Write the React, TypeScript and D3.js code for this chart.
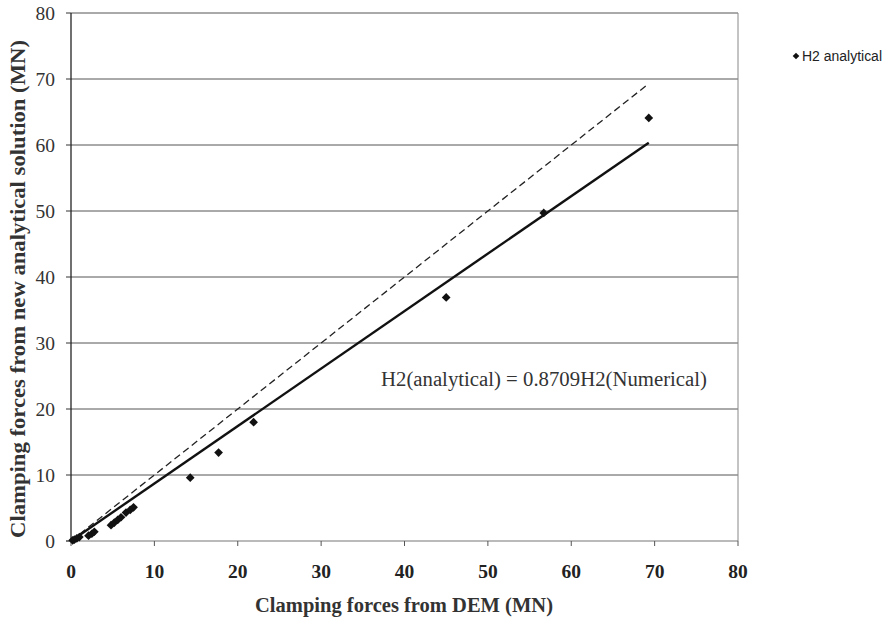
import React from "react";
import * as d3 from "d3";

const demForces = [0.2, 0.4, 0.7, 1.0, 2.1, 2.5, 2.8, 4.8, 5.2, 5.6, 6.0, 6.6, 7.1, 7.5, 14.3, 17.7, 21.9, 45.0, 56.7, 69.3];
const analyticalForces = [0.1, 0.2, 0.4, 0.6, 0.8, 1.1, 1.4, 2.4, 2.8, 3.2, 3.6, 4.3, 4.7, 5.1, 9.6, 13.4, 18.0, 36.9, 49.7, 64.1];
const xTicks = [0, 10, 20, 30, 40, 50, 60, 70, 80];
const yTicks = [0, 10, 20, 30, 40, 50, 60, 70, 80];
const fitSlope = 0.8709;
const lineExtent = [0, 69.3];
const seriesName = "H2 analytical";
const equationText = "H2(analytical) = 0.8709H2(Numerical)";
const xTitle = "Clamping forces from DEM (MN)";
const yTitle = "Clamping forces from new analytical solution (MN)";

export default function App() {
  const W = 889, H = 619;
  const x = d3.scaleLinear().domain([0, 80]).range([71, 738]);
  const y = d3.scaleLinear().domain([0, 80]).range([541, 13]);
  const diamond = d3.symbol(d3.symbolSquare, 38)()!;
  const serif = "'Liberation Serif', 'Times New Roman', serif";
  const pts = demForces.map((d, i) => [d, analyticalForces[i]]);
  const line = d3.line<number[]>().x(d => x(d[0])).y(d => y(d[1]));
  const fitData = lineExtent.map(v => [v, v * fitSlope]);
  const idData = lineExtent.map(v => [v, v]);
  return (
    <svg width={W} height={H} style={{ position: "absolute", left: 0, top: 0, background: "#fff" }}>
      {yTicks.filter(t => t > 0).map(t => (
        <line key={"g" + t} x1={x(0)} x2={x(80)} y1={y(t)} y2={y(t)} stroke="#555" strokeWidth={1} />
      ))}
      <line x1={x(80)} x2={x(80)} y1={y(80)} y2={y(0)} stroke="#888" strokeWidth={1} />
      <line x1={x(0) - 5} x2={x(80)} y1={y(0)} y2={y(0)} stroke="#777" strokeWidth={1.2} />
      {xTicks.map(t => (
        <g key={"x" + t}>
          <line x1={x(t)} x2={x(t)} y1={y(0)} y2={y(0) + 5} stroke="#555" />
          <text x={x(t)} y={y(0) + 37} textAnchor="middle" fontFamily={serif} fontWeight="bold" fontSize={19.5} fill="#222">{t}</text>
        </g>
      ))}
      <line x1={x(0)} x2={x(0)} y1={y(80)} y2={y(0)} stroke="#111" strokeWidth={1.2} />
      {yTicks.map(t => (
        <g key={"y" + t}>
          <line x1={x(0) - 5} x2={x(0)} y1={y(t)} y2={y(t)} stroke="#333" />
          <text x={x(0) - 16} y={y(t) + 6.5} textAnchor="end" fontFamily={serif} fontSize={19.5} fill="#333">{t}</text>
        </g>
      ))}
      <path d={line(idData)!} fill="none" stroke="#222" strokeWidth={1.3} strokeDasharray="7,4" />
      <path d={line(fitData)!} fill="none" stroke="#111" strokeWidth={2.4} />
      {pts.map((p, i) => (
        <path key={i} d={diamond} transform={`translate(${x(p[0])},${y(p[1])}) rotate(45)`} fill="#111" />
      ))}
      <text x={381} y={386} textLength={326} lengthAdjust="spacingAndGlyphs" fontFamily={serif} fontSize={20} fill="#333">{equationText}</text>
      <path d={d3.symbol(d3.symbolSquare, 22)()!} transform="translate(796,56) rotate(45)" fill="#111" />
      <text x={802} y={61} textLength={80} lengthAdjust="spacingAndGlyphs" fontFamily="'Liberation Sans', Arial, sans-serif" fontSize={14} fill="#222">{seriesName}</text>
      <text x={404} y={612} textAnchor="middle" textLength={298} lengthAdjust="spacingAndGlyphs" fontFamily={serif} fontWeight="bold" fontSize={20} fill="#333">{xTitle}</text>
      <text transform="translate(25,289) rotate(-90)" textAnchor="middle" textLength={498} lengthAdjust="spacingAndGlyphs" fontFamily={serif} fontWeight="bold" fontSize={20} fill="#333">{yTitle}</text>
    </svg>
  );
}
